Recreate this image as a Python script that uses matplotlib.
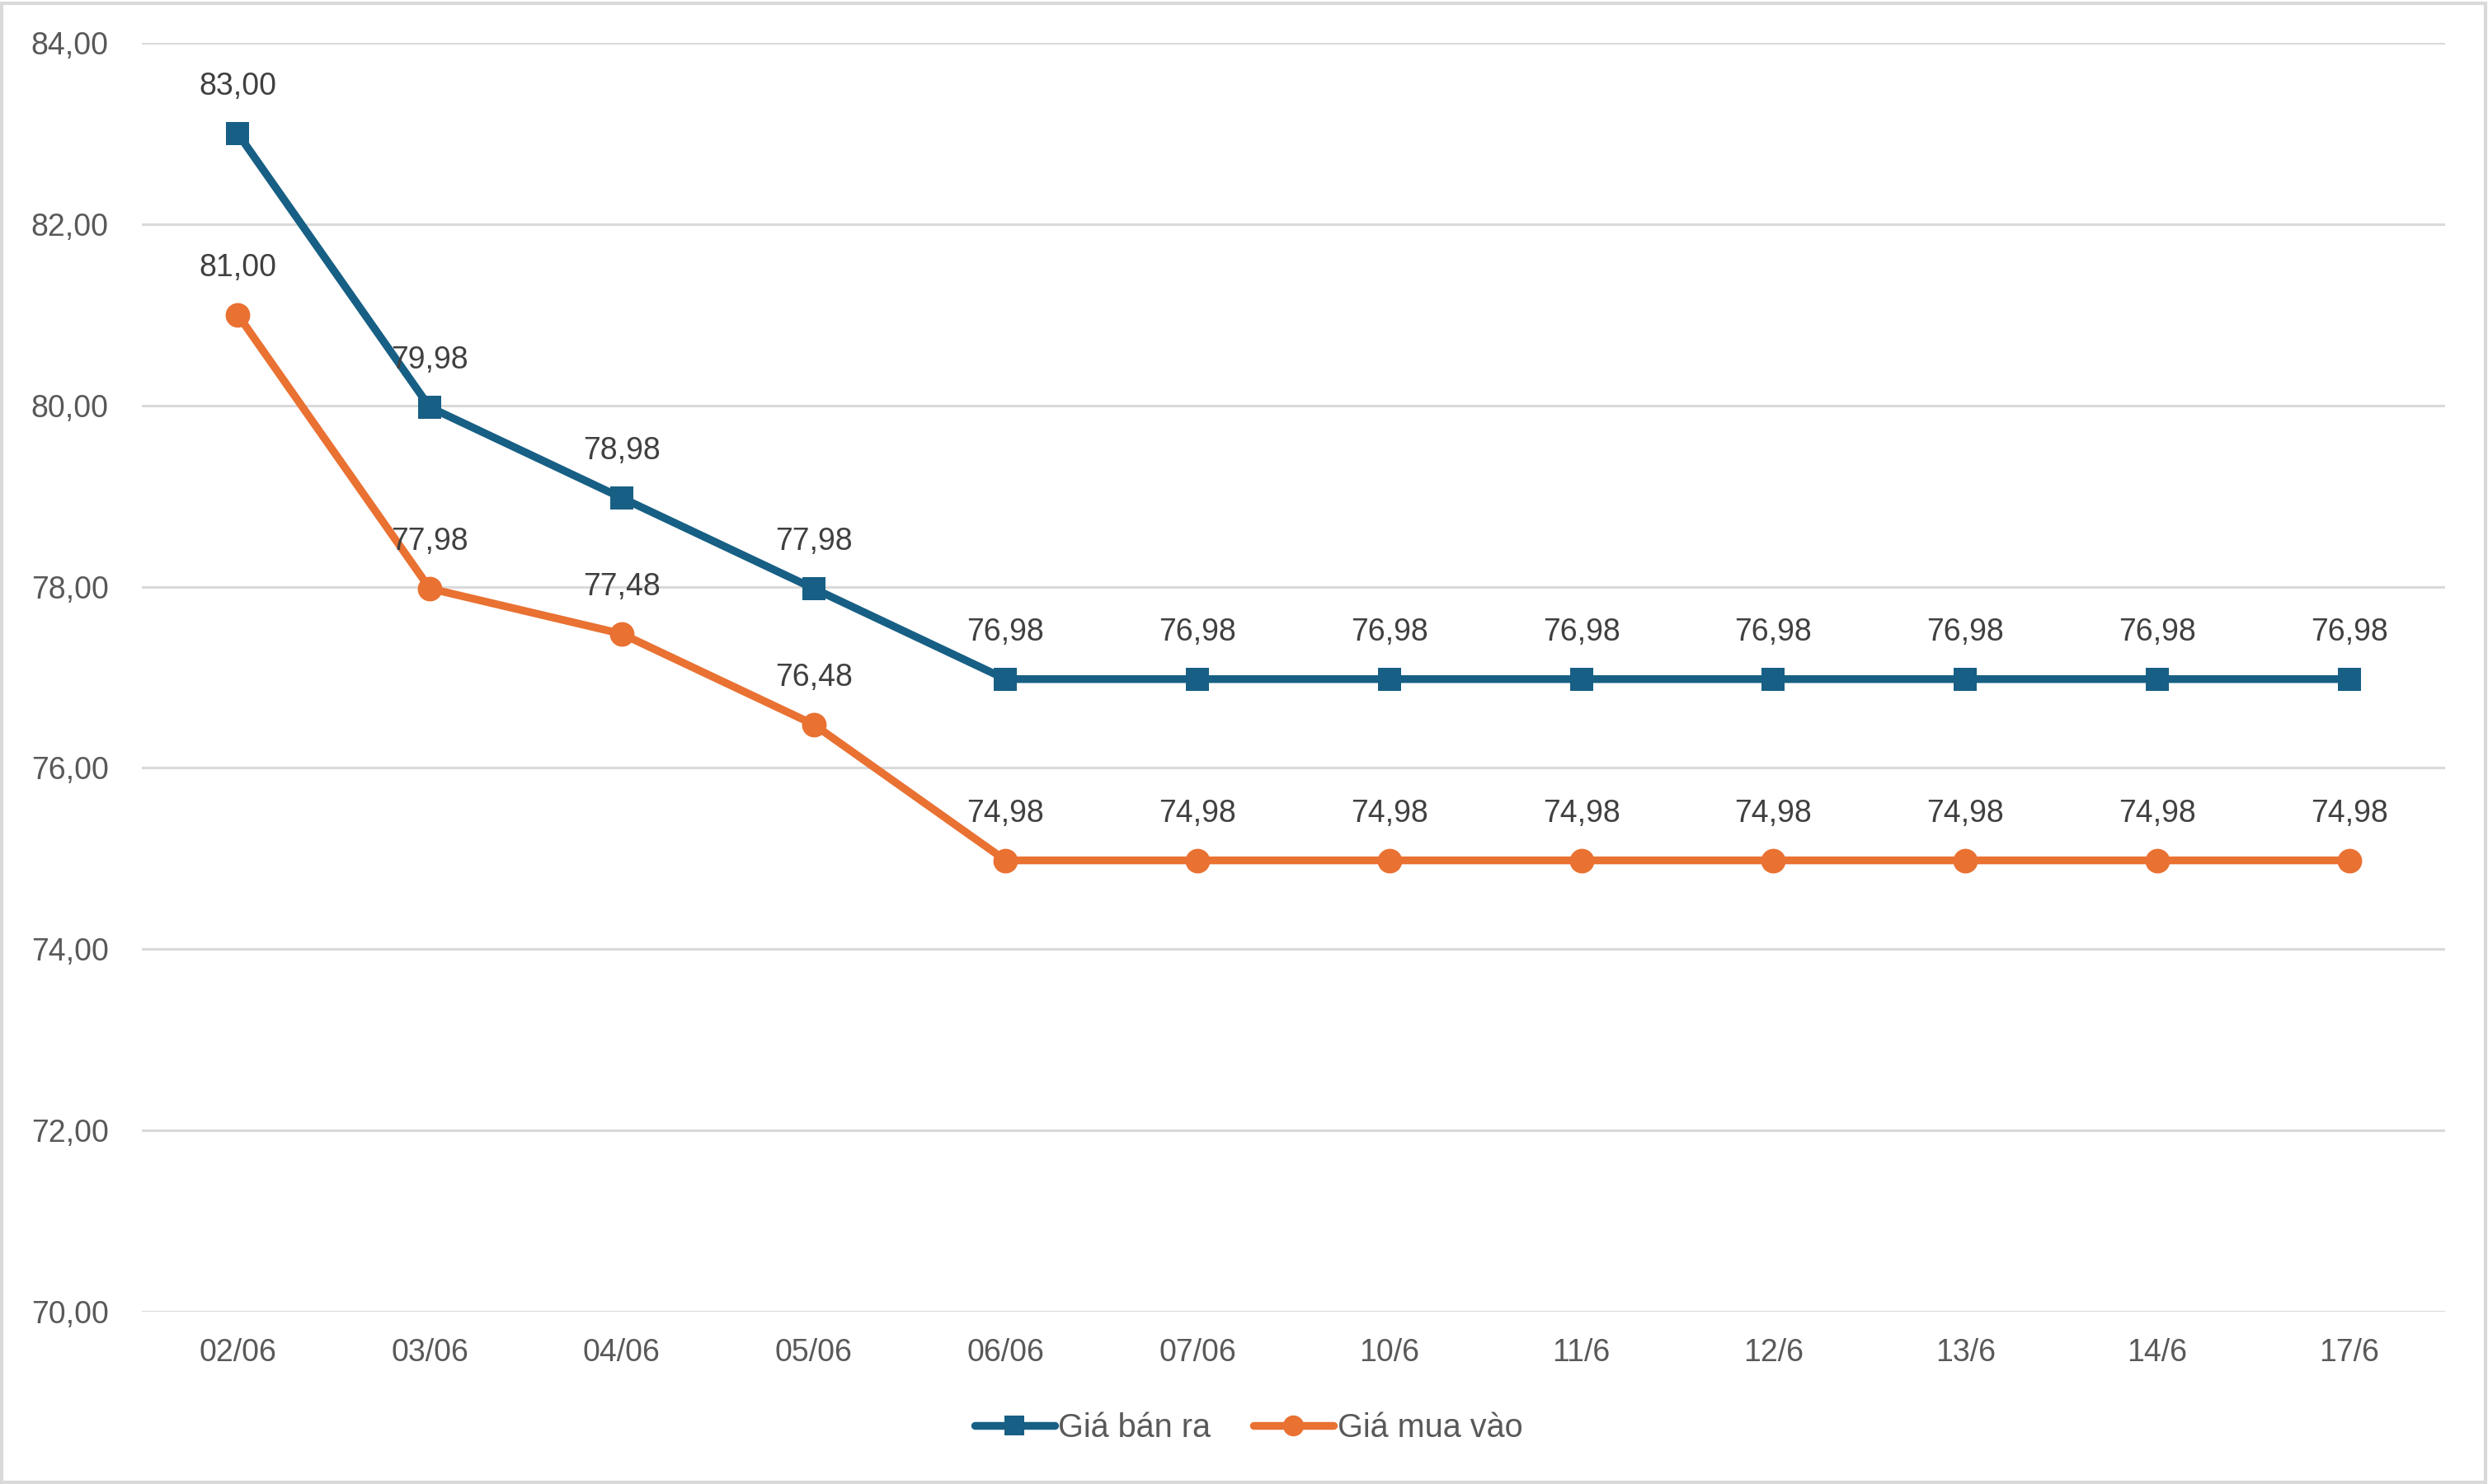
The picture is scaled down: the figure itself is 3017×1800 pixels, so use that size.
import matplotlib
matplotlib.use("Agg")
import matplotlib.pyplot as plt
from matplotlib.patches import Rectangle

categories = ["02/06", "03/06", "04/06", "05/06", "06/06", "07/06", "10/6", "11/6", "12/6", "13/6", "14/6", "17/6"]
gia_ban_ra = [83.00, 79.98, 78.98, 77.98, 76.98, 76.98, 76.98, 76.98, 76.98, 76.98, 76.98, 76.98]
gia_mua_vao = [81.00, 77.98, 77.48, 76.48, 74.98, 74.98, 74.98, 74.98, 74.98, 74.98, 74.98, 74.98]
y_ticks = [70, 72, 74, 76, 78, 80, 82, 84]

plt.rcParams['font.family'] = ['Liberation Sans', 'DejaVu Sans']

BLUE = "#175F84"
ORANGE = "#E97132"
GRAY = "#595959"
LABEL = "#404040"

fig = plt.figure(figsize=(30.17, 18.0), dpi=100)
ax = fig.add_axes([0.0570, 0.1161, 0.9258, 0.855])

x = list(range(len(categories)))
ax.plot(x, gia_ban_ra, color=BLUE, lw=6.8, marker="s", markersize=20.5, mew=0,
        label="Giá bán ra", solid_capstyle="round", zorder=3)
ax.plot(x, gia_mua_vao, color=ORANGE, lw=6.8, marker="o", markersize=21.5, mew=0,
        label="Giá mua vào", solid_capstyle="round", zorder=3)

def fmt(v):
    return f"{v:.2f}".replace(".", ",")

for xi, v in zip(x, gia_ban_ra):
    ax.annotate(fmt(v), (xi, v), xytext=(0, 41), textcoords="offset points",
                ha="center", va="center", fontsize=27, color=LABEL, zorder=4)
for xi, v in zip(x, gia_mua_vao):
    ax.annotate(fmt(v), (xi, v), xytext=(0, 41), textcoords="offset points",
                ha="center", va="center", fontsize=27, color=LABEL, zorder=4)

ax.set_xlim(-0.5, 11.5)
ax.set_ylim(70, 84)
ax.set_yticks(y_ticks)
ax.set_yticklabels([fmt(t) for t in y_ticks])
ax.set_xticks(x)
ax.set_xticklabels(categories)
ax.tick_params(axis="both", length=0, labelsize=27, labelcolor=GRAY)
ax.tick_params(axis="y", pad=29)
ax.tick_params(axis="x", pad=23)
ax.grid(axis="y", color="#D9D9D9", lw=2.2)
ax.set_axisbelow(True)
for s in ax.spines.values():
    s.set_visible(False)

leg = fig.legend(loc="center", bbox_to_anchor=(0.5018, 0.038), ncol=2, frameon=False,
                 fontsize=28.5, labelcolor=GRAY, handlelength=2.45, handletextpad=0.12,
                 columnspacing=1.3, markerscale=0.85)

fig.patches.append(Rectangle((0.0006, 0.001), 0.9985, 0.997, transform=fig.transFigure,
                             fill=False, edgecolor="#D9D9D9", lw=3))

fig.savefig("out.png", dpi=100, facecolor="white")
